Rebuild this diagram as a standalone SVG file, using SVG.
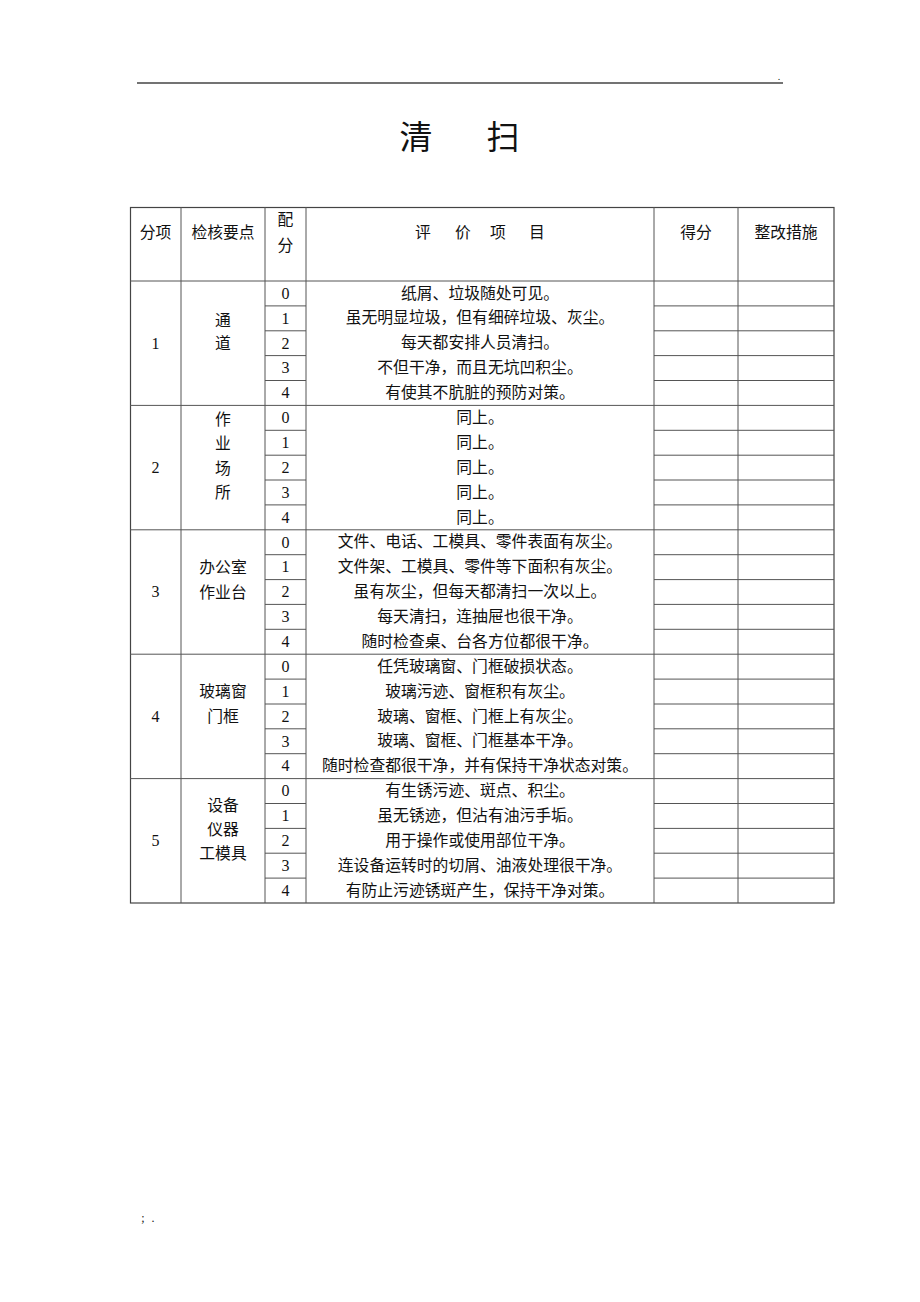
<svg xmlns="http://www.w3.org/2000/svg" width="920" height="1302" viewBox="0 0 920 1302">
<style>
.t{font-family:"Noto Sans CJK SC","Liberation Serif",serif;font-size:15.8px;fill:#111;text-anchor:middle}
.n{font-family:"Liberation Serif",serif;font-size:16px;fill:#111;text-anchor:middle}
.big{font-size:33px}
.g line{stroke:#555;stroke-width:1}
.o{fill:none;stroke:#444;stroke-width:1.2}
</style>
<rect width="920" height="1302" fill="#fff"/>
<line x1="137" y1="83" x2="783" y2="83" stroke="#444" stroke-width="1.5"/>
<text x="779" y="80" class="n" style="font-size:10px">.</text>
<text x="143" y="1222" class="n" style="font-size:12px">;</text>
<text x="153" y="1222" class="n" style="font-size:12px">.</text>
<g id="title"><text x="416" y="149" class="t big">清</text><text x="503" y="149" class="t big">扫</text></g>
<g id="grid" class="g">
<rect class="o" x="130.5" y="207.5" width="703.5" height="695.5"/>
<line x1="181" y1="207" x2="181" y2="903"/>
<line x1="265" y1="207" x2="265" y2="903"/>
<line x1="306" y1="207" x2="306" y2="903"/>
<line x1="654" y1="207" x2="654" y2="903"/>
<line x1="738" y1="207" x2="738" y2="903"/>
<line x1="130" y1="281" x2="834" y2="281"/>
<line x1="130" y1="405.4" x2="834" y2="405.4"/>
<line x1="130" y1="529.8" x2="834" y2="529.8"/>
<line x1="130" y1="654.2" x2="834" y2="654.2"/>
<line x1="130" y1="778.6" x2="834" y2="778.6"/>
<g id="rowlines">
<path d="M265 305.9H306M654 305.9H834M265 330.8H306M654 330.8H834M265 355.6H306M654 355.6H834M265 380.5H306M654 380.5H834
M265 430.3H306M654 430.3H834M265 455.2H306M654 455.2H834M265 480H306M654 480H834M265 504.9H306M654 504.9H834
M265 554.7H306M654 554.7H834M265 579.6H306M654 579.6H834M265 604.4H306M654 604.4H834M265 629.3H306M654 629.3H834
M265 679.1H306M654 679.1H834M265 704H306M654 704H834M265 728.8H306M654 728.8H834M265 753.7H306M654 753.7H834
M265 803.5H306M654 803.5H834M265 828.4H306M654 828.4H834M265 853.2H306M654 853.2H834M265 878.1H306M654 878.1H834" stroke="#555" stroke-width="1" fill="none"/>
</g>
</g>
<g id="header">
<text x="155.5" y="237.5" class="t">分项</text>
<text x="223" y="237.5" class="t">检核要点</text>
<text x="285.5" y="224.5" class="t">配</text>
<text x="285.5" y="250.5" class="t">分</text>
<text x="423" y="237.5" class="t">评</text>
<text x="463" y="237.5" class="t">价</text>
<text x="498" y="237.5" class="t">项</text>
<text x="537" y="237.5" class="t">目</text>
<text x="696" y="237.5" class="t">得分</text>
<text x="786" y="237.5" class="t">整改措施</text>
</g>
<g id="scores">
<text x="285.5" y="298.7" class="n">0</text><text x="285.5" y="323.6" class="n">1</text><text x="285.5" y="348.5" class="n">2</text><text x="285.5" y="373.4" class="n">3</text><text x="285.5" y="398.2" class="n">4</text>
<text x="285.5" y="423.1" class="n">0</text><text x="285.5" y="448" class="n">1</text><text x="285.5" y="472.9" class="n">2</text><text x="285.5" y="497.8" class="n">3</text><text x="285.5" y="522.7" class="n">4</text>
<text x="285.5" y="547.5" class="n">0</text><text x="285.5" y="572.4" class="n">1</text><text x="285.5" y="597.3" class="n">2</text><text x="285.5" y="622.2" class="n">3</text><text x="285.5" y="647" class="n">4</text>
<text x="285.5" y="671.9" class="n">0</text><text x="285.5" y="696.8" class="n">1</text><text x="285.5" y="721.7" class="n">2</text><text x="285.5" y="746.6" class="n">3</text><text x="285.5" y="771.4" class="n">4</text>
<text x="285.5" y="796.3" class="n">0</text><text x="285.5" y="821.2" class="n">1</text><text x="285.5" y="846.1" class="n">2</text><text x="285.5" y="871" class="n">3</text><text x="285.5" y="895.9" class="n">4</text>
</g>
<g id="group1">
<text x="155.5" y="348.5" class="n">1</text>
<text x="223" y="325.5" class="t">通</text><text x="223" y="348.5" class="t">道</text>
<text x="480" y="298.5" class="t">纸屑、垃圾随处可见。</text>
<text x="480" y="323.4" class="t">虽无明显垃圾，但有细碎垃圾、灰尘。</text>
<text x="480" y="348.3" class="t">每天都安排人员清扫。</text>
<text x="480" y="373.2" class="t">不但干净，而且无坑凹积尘。</text>
<text x="480" y="398" class="t">有使其不肮脏的预防对策。</text>
</g>
<g id="group2">
<text x="155.5" y="472.7" class="n">2</text>
<text x="223" y="424.5" class="t">作</text><text x="223" y="448.5" class="t">业</text><text x="223" y="473.5" class="t">场</text><text x="223" y="497.5" class="t">所</text>
<text x="480" y="422.9" class="t">同上。</text>
<text x="480" y="447.8" class="t">同上。</text>
<text x="480" y="472.7" class="t">同上。</text>
<text x="480" y="497.6" class="t">同上。</text>
<text x="480" y="522.5" class="t">同上。</text>
</g>
<g id="group3">
<text x="155.5" y="597.3" class="n">3</text>
<text x="223" y="572.5" class="t">办公室</text><text x="223" y="597.5" class="t">作业台</text>
<text x="480" y="547.3" class="t">文件、电话、工模具、零件表面有灰尘。</text>
<text x="480" y="572.2" class="t">文件架、工模具、零件等下面积有灰尘。</text>
<text x="480" y="597.1" class="t">虽有灰尘，但每天都清扫一次以上。</text>
<text x="480" y="622" class="t">每天清扫，连抽屉也很干净。</text>
<text x="480" y="646.8" class="t">随时检查桌、台各方位都很干净。</text>
</g>
<g id="group4">
<text x="155.5" y="721.7" class="n">4</text>
<text x="223" y="696.5" class="t">玻璃窗</text><text x="223" y="721.5" class="t">门框</text>
<text x="480" y="671.7" class="t">任凭玻璃窗、门框破损状态。</text>
<text x="480" y="696.6" class="t">玻璃污迹、窗框积有灰尘。</text>
<text x="480" y="721.5" class="t">玻璃、窗框、门框上有灰尘。</text>
<text x="480" y="746.4" class="t">玻璃、窗框、门框基本干净。</text>
<text x="480" y="771.2" class="t">随时检查都很干净，并有保持干净状态对策。</text>
</g>
<g id="group5">
<text x="155.5" y="846.1" class="n">5</text>
<text x="223" y="810.5" class="t">设备</text><text x="223" y="834.5" class="t">仪器</text><text x="223" y="858.5" class="t">工模具</text>
<text x="480" y="796.1" class="t">有生锈污迹、斑点、积尘。</text>
<text x="480" y="821" class="t">虽无锈迹，但沾有油污手垢。</text>
<text x="480" y="845.9" class="t">用于操作或使用部位干净。</text>
<text x="480" y="870.8" class="t">连设备运转时的切屑、油液处理很干净。</text>
<text x="480" y="895.7" class="t">有防止污迹锈斑产生，保持干净对策。</text>
</g>
</svg>
